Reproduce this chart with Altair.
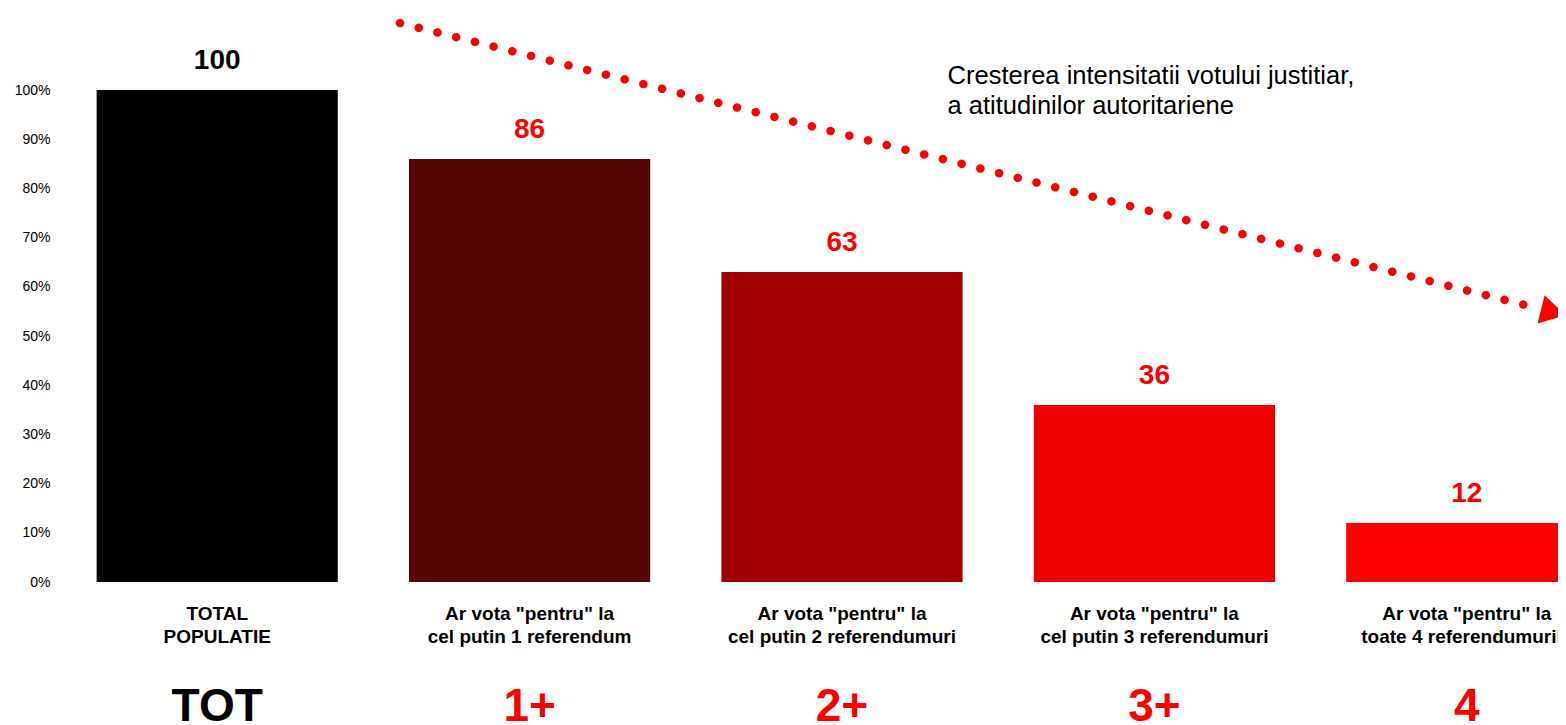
import altair as alt
import pandas as pd

# ---- data ----
categories = [
    "TOTAL|POPULATIE",
    'Ar vota "pentru" la|cel putin 1 referendum',
    'Ar vota "pentru" la|cel putin 2 referendumuri',
    'Ar vota "pentru" la|cel putin 3 referendumuri',
    'Ar vota "pentru" la|toate 4 referendumurile',
]
values = [100, 86, 63, 36, 12]
short_labels = ["TOT", "1+", "2+", "3+", "4"]
bar_colors = ["#000000", "#560404", "#a00000", "#ee0000", "#ff0000"]
text_colors = ["#000000", "#ff0000", "#ff0000", "#ff0000", "#ff0000"]
y_ticks = [0, 10, 20, 30, 40, 50, 60, 70, 80, 90, 100]

# trend arrow (x in band-slot units 0..5, y in %)
arrow_x = [1.085, 4.724]
arrow_y = [113.6, 55.7]
arrow_head_x = [4.777]
arrow_head_y = [54.8]
note_lines = ["Cresterea intensitatii votului justitiar,", "a atitudinilor autoritariene"]
note_x = 2.838
note_y = 101.2

df = pd.DataFrame({
    "cat": categories,
    "value": values,
    "short": short_labels,
    "bar_color": bar_colors,
    "text_color": text_colors,
})
arrow_df = pd.DataFrame({"x": arrow_x, "y": arrow_y})
head_df = pd.DataFrame({"x": arrow_head_x, "y": arrow_head_y})

FONT = "Liberation Sans"
XRANGE = [0, 1562]

yscale = alt.Scale(domain=[0, 100], nice=False, zero=True)
yaxis = alt.Axis(values=y_ticks, labelExpr="datum.value + '%'", title=None,
                 domain=False, ticks=False, grid=False, labelFont=FONT,
                 labelFontSize=14, labelColor="#000000", labelPadding=11)

xband = alt.X("cat:N", sort=None,
              scale=alt.Scale(paddingInner=0.228, paddingOuter=0.114, range=XRANGE),
              axis=alt.Axis(title=None, domain=False, ticks=False, grid=False,
                            labelExpr="split(datum.label, '|')",
                            labelFont=FONT, labelFontSize=19, labelFontWeight="bold",
                            labelColor="#000000", labelLineHeight=23.5,
                            labelPadding=22, labelAngle=0, labelOverlap=False,
                            labelBound=False, labelFlush=False, labelLimit=400))

bars = alt.Chart(df).mark_bar().encode(
    x=xband,
    y=alt.Y("value:Q", scale=yscale, axis=yaxis),
    color=alt.Color("bar_color:N", scale=None),
)

value_text = alt.Chart(df).mark_text(
    font=FONT, fontSize=28, fontWeight="bold", baseline="alphabetic", dy=-21
).encode(
    x=xband,
    y=alt.Y("value:Q", scale=yscale, axis=yaxis),
    text=alt.Text("value:Q"),
    color=alt.Color("text_color:N", scale=None),
)

big_text = alt.Chart(df).mark_text(
    font=FONT, fontSize=46, fontWeight="bold", baseline="alphabetic", dy=139
).encode(
    x=xband,
    y=alt.Y(datum=0, scale=yscale, axis=yaxis),
    text="short:N",
    color=alt.Color("text_color:N", scale=None),
)

xq = dict(scale=alt.Scale(domain=[0, 5], range=XRANGE, nice=False, zero=False), axis=None)

arrow_line = alt.Chart(arrow_df).mark_line(
    color="#ff0000", strokeWidth=8.5, strokeCap="round", strokeDash=[0.1, 19.2]
).encode(
    x=alt.X("x:Q", **xq),
    y=alt.Y("y:Q", scale=yscale, axis=yaxis),
)

arrow_head = alt.Chart(head_df).mark_point(
    shape="triangle-right", filled=True, color="#ff0000", opacity=1, size=850, angle=14
).encode(
    x=alt.X("x:Q", **xq),
    y=alt.Y("y:Q", scale=yscale, axis=yaxis),
)

note = alt.Chart(df.head(1)).mark_text(
    font=FONT, fontSize=25.5, fontWeight="normal", align="left", baseline="alphabetic",
    lineHeight=30, color="#000000"
).encode(
    x=alt.X(datum=note_x, **xq),
    y=alt.Y(datum=note_y, scale=yscale, axis=yaxis),
    text=alt.value(note_lines),
)

base = alt.layer(bars, value_text, big_text)
overlay = alt.layer(arrow_line, arrow_head, note)

chart = alt.layer(base, overlay).resolve_scale(x="independent").properties(
    width=1497, height=492,
    background="#ffffff",
    autosize=alt.AutoSizeParams(type="none"),
    padding={"left": 53, "top": 82, "right": 0, "bottom": 143},
).configure_view(strokeWidth=0, strokeOpacity=0).configure_axis(
    grid=False, domain=False, ticks=False
)

chart.save("out.html", embed_options={"renderer": "svg", "actions": False})
